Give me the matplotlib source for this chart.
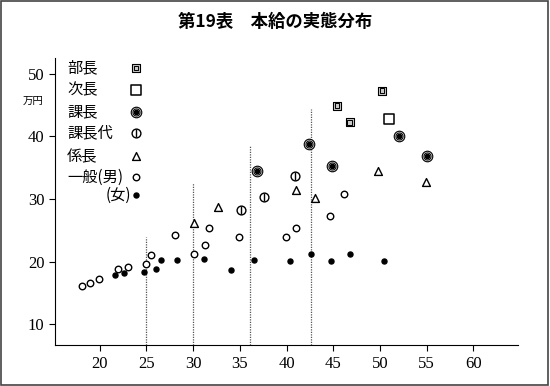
import matplotlib.pyplot as plt
from matplotlib.patches import Rectangle

plt.rcParams['font.family'] = ['Noto Sans CJK JP', 'DejaVu Sans']

# age (years) / salary (10k yen)
buchou_x = [45.4, 46.75, 50.25]
buchou_y = [44.9, 42.2, 47.3]
jichou_x = [51.0]
jichou_y = [42.8]
kachou_x = [36.8, 42.4, 44.9, 52.0, 55.0]
kachou_y = [34.5, 38.7, 35.3, 40.1, 36.8]
kachoudai_x = [35.1, 37.6, 40.9]
kachoudai_y = [28.3, 30.3, 33.6]
kakari_x = [30.1, 32.7, 41.0, 43.1, 49.8, 54.9]
kakari_y = [26.2, 28.7, 31.4, 30.1, 34.5, 32.7]
men_x = [18.1, 18.9, 19.9, 21.9, 23.0, 24.9, 25.5, 28.0, 30.1, 31.3, 31.7,
         34.9, 39.9, 41.0, 44.7, 46.1]
men_y = [16.1, 16.6, 17.3, 18.9, 19.2, 19.6, 21.0, 24.3, 21.2, 22.7, 25.4,
         23.9, 23.9, 25.4, 27.3, 30.8]
women_x = [21.6, 22.6, 24.7, 26.0, 26.5, 28.3, 31.2, 34.0, 36.5, 40.4, 42.6,
           44.8, 46.8, 50.4]
women_y = [17.8, 18.2, 18.4, 18.8, 20.2, 20.2, 20.5, 18.7, 20.2, 20.1, 21.3,
           20.1, 21.3, 20.1]

# dotted guide lines
guide_x = [25.0, 30.0, 36.1, 42.6]
guide_top = [24.0, 32.6, 38.4, 44.4]

legend_labels = ['部長', '次長', '課長', '課長代', '係長', '一般(男)', '(女)']

fig = plt.figure(figsize=(5.5, 3.86), dpi=100)
ax = fig.add_axes([0.1, 0.106, 0.842, 0.744])

ax.vlines(guide_x, 6.7, guide_top, colors='#555555', linestyles=(0, (1, 1)), lw=0.9)

def draw_buchou(xs, ys):
    ax.scatter(xs, ys, marker='s', s=34, facecolor='#c8c8c8', edgecolor='black', lw=0.8, zorder=3)
    ax.scatter(xs, ys, marker='s', s=10, facecolor='none', edgecolor='black', lw=0.7, zorder=4)

def draw_jichou(xs, ys):
    ax.scatter(xs, ys, marker='s', s=50, facecolor='white', edgecolor='black', lw=1.1, zorder=3)

def draw_kachou(xs, ys):
    ax.scatter(xs, ys, marker='o', s=58, facecolor='#dddddd', edgecolor='black', lw=0.8, zorder=3)
    ax.scatter(xs, ys, marker='o', s=26, facecolor='white', edgecolor='black', lw=0.7, zorder=4)
    ax.scatter(xs, ys, marker='o', s=10, facecolor='black', edgecolor='black', zorder=5)

def draw_kachoudai(xs, ys):
    ax.scatter(xs, ys, marker='o', s=40, facecolor='white', edgecolor='black', lw=1.0, zorder=3)
    ax.scatter(xs, ys, marker='|', s=28, color='black', lw=1.0, zorder=4)

def draw_kakari(xs, ys):
    ax.scatter(xs, ys, marker='^', s=32, facecolor='white', edgecolor='black', lw=1.0, zorder=3)

def draw_men(xs, ys):
    ax.scatter(xs, ys, marker='o', s=22, facecolor='white', edgecolor='black', lw=1.0, zorder=3)

def draw_women(xs, ys):
    ax.scatter(xs, ys, marker='o', s=13, facecolor='black', edgecolor='black', zorder=3)

draw_buchou(buchou_x, buchou_y)
draw_jichou(jichou_x, jichou_y)
draw_kachou(kachou_x, kachou_y)
draw_kachoudai(kachoudai_x, kachoudai_y)
draw_kakari(kakari_x, kakari_y)
draw_men(men_x, men_y)
draw_women(women_x, women_y)

# hand-made legend in data coordinates
leg_y = [50.9, 47.4, 43.9, 40.6, 36.8, 33.5, 30.6]
leg_fn = [draw_buchou, draw_jichou, draw_kachou, draw_kachoudai, draw_kakari, draw_men, draw_women]
for lab, yy, fn in zip(legend_labels, leg_y, leg_fn):
    if lab == '(女)':
        ax.text(23.3, yy, lab, fontsize=11, va='center', ha='right')
    else:
        ax.text(16.5, yy, lab, fontsize=11, va='center', ha='left')
    fn([23.9], [yy])

ax.set_xlim(15.2, 64.8)
ax.set_ylim(6.7, 52.5)
ax.set_xticks([20, 25, 30, 35, 40, 45, 50, 55, 60])
ax.set_yticks([10, 20, 30, 40, 50])
ax.spines['top'].set_visible(False)
ax.spines['right'].set_visible(False)
ax.tick_params(direction='out', length=4, width=0.8, labelsize=12)
for lbl in ax.get_xticklabels() + ax.get_yticklabels():
    lbl.set_family('Liberation Serif')
ax.text(-0.025, 0.85, '万円', transform=ax.transAxes, fontsize=7.5, ha='right', va='center')

fig.text(0.5, 0.943, '第19表　本給の実態分布', fontsize=12.5, fontweight='bold', ha='center', va='center')
fig.patches.append(Rectangle((0.002, 0.003), 0.995, 0.994, transform=fig.transFigure,
                             fill=False, edgecolor='#444444', lw=1.2))

fig.savefig('out.png', dpi=100)
